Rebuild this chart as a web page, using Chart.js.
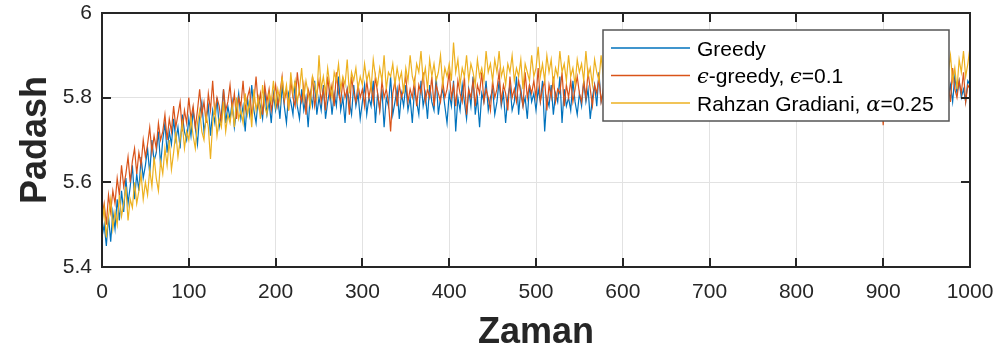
<!DOCTYPE html>
<html>
<head>
<meta charset="utf-8">
<script src="https://cdn.jsdelivr.net/npm/chart.js@4.4.1/dist/chart.umd.min.js"></script>
<style>
  html, body { margin: 0; padding: 0; background: #fff; }
  canvas { display: block; }
</style>
</head>
<body>
<canvas id="chart" width="998" height="348"></canvas>
<script>
// x: time steps 0..1000, sampled every 2.5
const zaman = Array.from({ length: 401 }, (_, i) => i * 2.5);

const xTicks = [0, 100, 200, 300, 400, 500, 600, 700, 800, 900, 1000];
const yTicks = [5.4, 5.6, 5.8, 6];

const greedy = [
  5.47, 5.50, 5.45, 5.52, 5.46, 5.53, 5.49, 5.56, 5.51, 5.58, 5.53, 5.61, 5.55, 5.59, 5.64, 5.56, 5.62, 5.58, 5.66, 5.61,
  5.64, 5.68, 5.62, 5.70, 5.65, 5.67, 5.72, 5.64, 5.70, 5.74, 5.67, 5.72, 5.69, 5.75, 5.70, 5.73, 5.68, 5.76, 5.72, 5.70,
  5.75, 5.71, 5.77, 5.73, 5.69, 5.76, 5.79, 5.72, 5.75, 5.78, 5.71, 5.77, 5.74, 5.80, 5.73, 5.76, 5.82, 5.74, 5.78, 5.75,
  5.79, 5.73, 5.77, 5.81, 5.75, 5.78, 5.72, 5.80, 5.76, 5.83, 5.77, 5.74, 5.80, 5.78, 5.75, 5.82, 5.76, 5.79, 5.74, 5.81,
  5.77, 5.80, 5.75, 5.83, 5.78, 5.74, 5.81, 5.79, 5.76, 5.84, 5.78, 5.75, 5.82, 5.77, 5.80, 5.73, 5.81, 5.78, 5.84, 5.76,
  5.80, 5.77, 5.83, 5.75, 5.79, 5.82, 5.76, 5.81, 5.78, 5.85, 5.77, 5.80, 5.74, 5.82, 5.79, 5.76, 5.83, 5.78, 5.81, 5.75,
  5.79, 5.83, 5.76, 5.80, 5.78, 5.84, 5.74, 5.81, 5.77, 5.82, 5.73, 5.80, 5.78, 5.85, 5.76, 5.79, 5.82, 5.75, 5.81, 5.78,
  5.83, 5.77, 5.80, 5.74, 5.82, 5.79, 5.76, 5.84, 5.78, 5.81, 5.75, 5.83, 5.79, 5.77, 5.85, 5.76, 5.80, 5.82, 5.78, 5.74,
  5.81, 5.78, 5.84, 5.72, 5.80, 5.77, 5.83, 5.79, 5.75, 5.82, 5.78, 5.85, 5.76, 5.80, 5.73, 5.81, 5.79, 5.84, 5.77, 5.80,
  5.82, 5.76, 5.79, 5.84, 5.78, 5.81, 5.74, 5.80, 5.83, 5.77, 5.79, 5.85, 5.76, 5.82, 5.78, 5.80, 5.75, 5.83, 5.79, 5.81,
  5.77, 5.82, 5.79, 5.84, 5.72, 5.80, 5.78, 5.83, 5.76, 5.81, 5.79, 5.85, 5.74, 5.82, 5.78, 5.80, 5.77, 5.84, 5.79, 5.76,
  5.81, 5.78, 5.84, 5.79, 5.82, 5.75, 5.80, 5.83, 5.78, 5.86, 5.79, 5.81, 5.77, 5.84, 5.80, 5.78, 5.82, 5.76, 5.83, 5.80,
  5.78, 5.82, 5.79, 5.84, 5.77, 5.81, 5.80, 5.83, 5.76, 5.82, 5.79, 5.85, 5.78, 5.81, 5.80, 5.84, 5.77, 5.82, 5.79, 5.83,
  5.80, 5.77, 5.83, 5.79, 5.82, 5.78, 5.85, 5.80, 5.76, 5.82, 5.79, 5.84, 5.78, 5.81, 5.80, 5.83, 5.77, 5.82, 5.79, 5.84,
  5.81, 5.78, 5.83, 5.80, 5.77, 5.84, 5.79, 5.82, 5.80, 5.85, 5.78, 5.81, 5.79, 5.83, 5.77, 5.82, 5.80, 5.84, 5.78, 5.81,
  5.79, 5.83, 5.80, 5.85, 5.78, 5.82, 5.79, 5.81, 5.77, 5.84, 5.80, 5.82, 5.78, 5.83, 5.81, 5.79, 5.85, 5.80, 5.82, 5.78,
  5.81, 5.84, 5.79, 5.82, 5.78, 5.83, 5.80, 5.85, 5.79, 5.81, 5.77, 5.84, 5.80, 5.82, 5.79, 5.86, 5.78, 5.81, 5.83, 5.80,
  5.82, 5.79, 5.84, 5.80, 5.78, 5.83, 5.81, 5.85, 5.79, 5.82, 5.80, 5.77, 5.84, 5.81, 5.79, 5.83, 5.80, 5.85, 5.78, 5.82,
  5.80, 5.84, 5.79, 5.82, 5.81, 5.78, 5.85, 5.80, 5.83, 5.79, 5.82, 5.86, 5.80, 5.78, 5.84, 5.81, 5.79, 5.83, 5.80, 5.85,
  5.81, 5.83, 5.79, 5.85, 5.80, 5.82, 5.78, 5.84, 5.81, 5.86, 5.80, 5.83, 5.79, 5.85, 5.81, 5.84, 5.80, 5.82, 5.79, 5.84,
  5.83
];

const epsGreedy = [
  5.52, 5.55, 5.50, 5.57, 5.53, 5.58, 5.55, 5.61, 5.57, 5.64, 5.59, 5.62, 5.66, 5.60, 5.65, 5.68, 5.62, 5.67, 5.64, 5.70,
  5.66, 5.69, 5.73, 5.67, 5.71, 5.68, 5.74, 5.70, 5.72, 5.76, 5.70, 5.75, 5.72, 5.78, 5.73, 5.76, 5.79, 5.72, 5.77, 5.74,
  5.80, 5.75, 5.78, 5.73, 5.77, 5.82, 5.76, 5.79, 5.74, 5.81, 5.77, 5.84, 5.76, 5.80, 5.78, 5.74, 5.82, 5.77, 5.79, 5.83,
  5.77, 5.81, 5.75, 5.80, 5.78, 5.84, 5.77, 5.80, 5.82, 5.76, 5.79, 5.85, 5.78, 5.81, 5.76, 5.83, 5.79, 5.82, 5.77, 5.80,
  5.83, 5.78, 5.81, 5.85, 5.79, 5.82, 5.77, 5.84, 5.80, 5.78, 5.86, 5.81, 5.79, 5.83, 5.76, 5.82, 5.80, 5.85, 5.78, 5.81,
  5.84, 5.79, 5.82, 5.77, 5.85, 5.80, 5.83, 5.78, 5.86, 5.81, 5.79, 5.84, 5.80, 5.82, 5.76, 5.85, 5.81, 5.79, 5.83, 5.80,
  5.82, 5.78, 5.84, 5.80, 5.83, 5.79, 5.85, 5.81, 5.77, 5.84, 5.80, 5.82, 5.79, 5.72, 5.81, 5.84, 5.78, 5.83, 5.80, 5.82,
  5.85, 5.79, 5.82, 5.80, 5.84, 5.78, 5.83, 5.81, 5.86, 5.79, 5.82, 5.80, 5.85, 5.78, 5.83, 5.81, 5.79, 5.84, 5.80, 5.82,
  5.86, 5.80, 5.83, 5.78, 5.84, 5.81, 5.79, 5.85, 5.76, 5.82, 5.80, 5.84, 5.78, 5.83, 5.81, 5.86, 5.79, 5.82, 5.80, 5.77,
  5.84, 5.80, 5.82, 5.86, 5.79, 5.83, 5.81, 5.77, 5.85, 5.80, 5.82, 5.79, 5.84, 5.81, 5.78, 5.86, 5.80, 5.83, 5.81, 5.84,
  5.80, 5.87, 5.79, 5.82, 5.84, 5.77, 5.83, 5.80, 5.85, 5.79, 5.82, 5.81, 5.86, 5.78, 5.83, 5.80, 5.84, 5.79, 5.82, 5.85,
  5.81, 5.79, 5.84, 5.80, 5.86, 5.82, 5.78, 5.83, 5.81, 5.85, 5.79, 5.82, 5.80, 5.84, 5.77, 5.83, 5.81, 5.86, 5.80, 5.82,
  5.84, 5.80, 5.83, 5.79, 5.85, 5.81, 5.82, 5.78, 5.84, 5.80, 5.86, 5.82, 5.79, 5.83, 5.81, 5.85, 5.80, 5.82, 5.78, 5.84,
  5.81, 5.83, 5.79, 5.85, 5.80, 5.82, 5.84, 5.78, 5.83, 5.81, 5.86, 5.80, 5.82, 5.79, 5.84, 5.81, 5.83, 5.80, 5.85, 5.79,
  5.82, 5.84, 5.80, 5.83, 5.81, 5.86, 5.79, 5.82, 5.80, 5.85, 5.81, 5.83, 5.78, 5.84, 5.82, 5.80, 5.86, 5.81, 5.83, 5.79,
  5.84, 5.81, 5.83, 5.79, 5.85, 5.82, 5.80, 5.84, 5.81, 5.86, 5.80, 5.83, 5.82, 5.78, 5.85, 5.81, 5.83, 5.80, 5.84, 5.82,
  5.80, 5.85, 5.81, 5.83, 5.79, 5.86, 5.82, 5.80, 5.84, 5.81, 5.83, 5.79, 5.85, 5.82, 5.80, 5.84, 5.81, 5.86, 5.80, 5.83,
  5.81, 5.84, 5.80, 5.82, 5.85, 5.79, 5.83, 5.81, 5.86, 5.80, 5.82, 5.84, 5.79, 5.83, 5.81, 5.85, 5.80, 5.82, 5.84, 5.81,
  5.735, 5.82, 5.80, 5.84, 5.81, 5.85, 5.79, 5.83, 5.82, 5.86, 5.80, 5.84, 5.81, 5.83, 5.79, 5.85, 5.82, 5.80, 5.84, 5.81,
  5.83, 5.86, 5.80, 5.84, 5.79, 5.85, 5.82, 5.80, 5.86, 5.81, 5.83, 5.79, 5.87, 5.82, 5.80, 5.84, 5.81, 5.86, 5.79, 5.83,
  5.82
];

const rahzan = [
  5.50, 5.54, 5.47, 5.52, 5.56, 5.49, 5.53, 5.50, 5.57, 5.52, 5.55, 5.59, 5.51, 5.56, 5.54, 5.60, 5.55, 5.58, 5.62, 5.56,
  5.60, 5.57, 5.63, 5.59, 5.66, 5.61, 5.58, 5.65, 5.62, 5.68, 5.64, 5.70, 5.63, 5.67, 5.72, 5.66, 5.70, 5.74, 5.68, 5.72,
  5.70, 5.75, 5.71, 5.68, 5.74, 5.77, 5.72, 5.70, 5.76, 5.73, 5.655, 5.74, 5.78, 5.71, 5.75, 5.73, 5.79, 5.72, 5.76, 5.74,
  5.78, 5.73, 5.80, 5.75, 5.77, 5.74, 5.81, 5.76, 5.79, 5.73, 5.82, 5.77, 5.80, 5.75, 5.83, 5.78, 5.76, 5.81, 5.79, 5.84,
  5.78, 5.82, 5.79, 5.85, 5.80, 5.83, 5.77, 5.86, 5.81, 5.84, 5.79, 5.82, 5.87, 5.80, 5.84, 5.81, 5.78, 5.85, 5.83, 5.80,
  5.90, 5.82, 5.85, 5.81, 5.87, 5.83, 5.80, 5.86, 5.84, 5.88, 5.82, 5.85, 5.83, 5.89, 5.81, 5.86, 5.84, 5.87, 5.82, 5.85,
  5.83, 5.88, 5.84, 5.86, 5.82, 5.89, 5.85, 5.83, 5.87, 5.84, 5.90, 5.82, 5.86, 5.85, 5.88, 5.83, 5.87, 5.84, 5.86, 5.81,
  5.87, 5.84, 5.90, 5.85, 5.83, 5.88, 5.86, 5.91, 5.84, 5.87, 5.82, 5.89, 5.85, 5.88, 5.84, 5.86, 5.90, 5.83, 5.87, 5.85,
  5.88, 5.84, 5.93, 5.86, 5.89, 5.83, 5.87, 5.85, 5.90, 5.84, 5.88, 5.86, 5.83, 5.89, 5.85, 5.87, 5.84, 5.91, 5.86, 5.88,
  5.84, 5.89, 5.86, 5.91, 5.85, 5.87, 5.83, 5.88, 5.86, 5.90, 5.84, 5.87, 5.85, 5.89, 5.82, 5.88, 5.86, 5.84, 5.90, 5.85,
  5.87, 5.92, 5.85, 5.88, 5.84, 5.90, 5.86, 5.89, 5.83, 5.87, 5.85, 5.91, 5.86, 5.88, 5.84, 5.90, 5.85, 5.87, 5.83, 5.89,
  5.86, 5.88, 5.84, 5.91, 5.85, 5.87, 5.83, 5.89, 5.86, 5.84, 5.90, 5.85, 5.88, 5.82, 5.87, 5.86, 5.91, 5.84, 5.88, 5.85,
  5.87, 5.84, 5.89, 5.86, 5.90, 5.85, 5.88, 5.83, 5.87, 5.86, 5.91, 5.84, 5.88, 5.85, 5.89, 5.86, 5.83, 5.88, 5.87, 5.90,
  5.85, 5.88, 5.86, 5.91, 5.84, 5.87, 5.85, 5.89, 5.83, 5.88, 5.86, 5.90, 5.84, 5.87, 5.89, 5.85, 5.88, 5.86, 5.92, 5.84,
  5.87, 5.85, 5.90, 5.86, 5.88, 5.84, 5.89, 5.87, 5.85, 5.91, 5.86, 5.88, 5.83, 5.87, 5.90, 5.85, 5.88, 5.86, 5.89, 5.84,
  5.88, 5.86, 5.91, 5.85, 5.87, 5.89, 5.84, 5.88, 5.86, 5.90, 5.85, 5.87, 5.92, 5.86, 5.88, 5.84, 5.89, 5.87, 5.85, 5.90,
  5.86, 5.89, 5.85, 5.88, 5.84, 5.91, 5.87, 5.86, 5.90, 5.85, 5.88, 5.86, 5.89, 5.83, 5.87, 5.90, 5.86, 5.88, 5.85, 5.91,
  5.87, 5.85, 5.89, 5.86, 5.92, 5.84, 5.88, 5.87, 5.85, 5.90, 5.86, 5.88, 5.84, 5.89, 5.87, 5.91, 5.85, 5.88, 5.86, 5.89,
  5.85, 5.88, 5.86, 5.90, 5.84, 5.89, 5.87, 5.85, 5.91, 5.86, 5.88, 5.84, 5.90, 5.87, 5.85, 5.89, 5.86, 5.92, 5.85, 5.88,
  5.86, 5.90, 5.84, 5.88, 5.87, 5.91, 5.85, 5.89, 5.83, 5.88, 5.86, 5.90, 5.84, 5.87, 5.82, 5.89, 5.86, 5.91, 5.85, 5.88,
  5.92
];

const seriesNames = ["Greedy", "\u03f5-greedy, \u03f5=0.1", "Rahzan Gradiani, \u03b1=0.25"];
const colors = ["#0072BD", "#D95319", "#EDB120"];

const SANS = '"Liberation Sans", Arial, Helvetica, sans-serif';
const SERIF = '"DejaVu Serif", "Liberation Serif", serif';
const INK = "#262626";

function toPoints(values) {
  return values.map((v, i) => ({ x: zaman[i], y: v }));
}

function noPadding(s) {
  s.paddingTop = 0;
  s.paddingBottom = 0;
  s.paddingLeft = 0;
  s.paddingRight = 0;
}

// box, inward ticks and axis titles in MATLAB style
const axesDecor = {
  id: "axesDecor",
  afterDatasetsDraw(chart) {
    const { ctx, chartArea: a, scales } = chart;
    ctx.save();
    ctx.strokeStyle = INK;
    ctx.lineWidth = 2;
    ctx.beginPath();
    xTicks.forEach((t) => {
      const px = Math.round(scales.x.getPixelForValue(t));
      ctx.moveTo(px, a.bottom); ctx.lineTo(px, a.bottom - 9);
      ctx.moveTo(px, a.top); ctx.lineTo(px, a.top + 9);
    });
    yTicks.forEach((t) => {
      const py = Math.round(scales.y.getPixelForValue(t));
      ctx.moveTo(a.left, py); ctx.lineTo(a.left + 9, py);
      ctx.moveTo(a.right, py); ctx.lineTo(a.right - 9, py);
    });
    ctx.stroke();
    ctx.strokeRect(a.left, a.top, a.right - a.left, a.bottom - a.top);

    ctx.fillStyle = INK;
    ctx.font = "bold 36px " + SANS;
    ctx.textAlign = "center";
    ctx.textBaseline = "alphabetic";
    ctx.fillText("Zaman", (a.left + a.right) / 2, 343);
    ctx.translate(46, (a.top + a.bottom) / 2);
    ctx.rotate(-Math.PI / 2);
    ctx.fillText("Padash", 0, 0);
    ctx.restore();
  },
};

// legend box inside the axes, upper right
const legendBox = {
  id: "legendBox",
  afterDraw(chart) {
    const { ctx } = chart;
    const box = { x: 603, y: 30, w: 346, h: 91 };
    ctx.save();
    ctx.fillStyle = "#fff";
    ctx.fillRect(box.x, box.y, box.w, box.h);
    ctx.strokeStyle = "#555";
    ctx.lineWidth = 1.5;
    ctx.strokeRect(box.x, box.y, box.w, box.h);

    const rows = [
      [["Greedy", false]],
      [["\u03f5", true], ["-greedy, ", false], ["\u03f5", true], ["=0.1", false]],
      [["Rahzan Gradiani, ", false], ["\u03b1", true], ["=0.25", false]],
    ];
    const rowY = [48, 75.5, 103];
    rows.forEach((parts, i) => {
      ctx.strokeStyle = colors[i];
      ctx.lineWidth = 1.3;
      ctx.beginPath();
      ctx.moveTo(611, rowY[i]);
      ctx.lineTo(690, rowY[i]);
      ctx.stroke();

      let x = 697;
      ctx.fillStyle = "#000";
      ctx.textAlign = "left";
      ctx.textBaseline = "alphabetic";
      parts.forEach(([txt, greek]) => {
        ctx.font = greek ? "italic 21px " + SERIF : "21px " + SANS;
        ctx.fillText(txt, x, rowY[i] + 7.5);
        x += ctx.measureText(txt).width;
      });
    });
    ctx.restore();
  },
};

new Chart(document.getElementById("chart"), {
  type: "line",
  data: {
    datasets: [greedy, epsGreedy, rahzan].map((vals, i) => ({
      label: seriesNames[i],
      data: toPoints(vals),
      borderColor: colors[i],
      backgroundColor: colors[i],
      borderWidth: 1.2,
      pointRadius: 0,
      tension: 0,
      fill: false,
      order: 2 - i,
    })),
  },
  options: {
    responsive: false,
    animation: false,
    devicePixelRatio: 1,
    layout: { padding: { top: 13, right: 28, left: 0, bottom: 0 } },
    plugins: { legend: { display: false }, tooltip: { enabled: false } },
    scales: {
      x: {
        type: "linear",
        min: 0,
        max: 1000,
        afterFit: (s) => { s.height = 81; noPadding(s); },
        afterBuildTicks: (s) => { s.ticks = xTicks.map((v) => ({ value: v })); },
        grid: { color: "#e2e2e2", lineWidth: 1, drawTicks: false },
        border: { display: false },
        ticks: {
          color: INK,
          padding: 13,
          maxRotation: 0,
          font: { family: SANS, size: 21 },
          callback: (v) => String(v),
        },
      },
      y: {
        min: 5.4,
        max: 6,
        afterFit: (s) => { s.width = 102; noPadding(s); },
        afterBuildTicks: (s) => { s.ticks = yTicks.map((v) => ({ value: v })); },
        grid: { color: "#e2e2e2", lineWidth: 1, drawTicks: false },
        border: { display: false },
        ticks: {
          color: INK,
          padding: 10,
          font: { family: SANS, size: 21 },
          callback: (v) => String(+v.toFixed(1)),
        },
      },
    },
  },
  plugins: [axesDecor, legendBox],
});
</script>
</body>
</html>
